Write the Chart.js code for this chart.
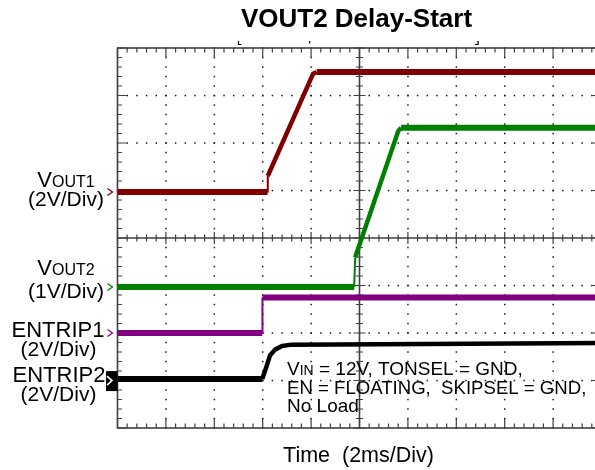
<!DOCTYPE html>
<html>
<head>
<meta charset="utf-8">
<title>VOUT2 Delay-Start</title>
<script src="https://cdn.jsdelivr.net/npm/chart.js@4.4.1/dist/chart.umd.min.js"></script>
<style>
  html, body { margin: 0; padding: 0; background: #ffffff; overflow: hidden; }
  #wrap { width: 620px; height: 470px; }
</style>
</head>
<body>
<div id="wrap"><canvas id="scope" width="620" height="470"></canvas></div>
<script>
// Time axis: 2 ms per division, 10 divisions, trigger at centre
const timeDivs = [-10, -8, -6, -4, -2, 0, 2, 4, 6, 8, 10];

// Channel traces (time in ms, level in volts)
const vout1Time  = [-10, -3.80, -3.79, -1.92, -1.76, 10];
const vout1Volts = [0, 0, 0.67, 4.97, 5.05, 5.05];

const vout2Time  = [-10, -0.22, -0.18, 1.60, 1.72, 10];
const vout2Volts = [0, 0, 0.62, 3.28, 3.35, 3.35];

const entrip1Time  = [-10, -4.02, -4.01, 10];
const entrip1Volts = [0, 0, 1.5, 1.5];

const entrip2Time  = [-10, -4.02, -3.86, -3.70, -3.49, -3.20, -2.80, 10];
const entrip2Volts = [0, 0, 0.48, 0.99, 1.24, 1.39, 1.45, 1.52];

// Channel settings: volts per division and ground marker offset (divisions from centre)
const channelNames  = ['VOUT1', 'VOUT2', 'ENTRIP1', 'ENTRIP2'];
const voltsPerDiv   = [2, 1, 2, 2];
const groundOffsets = [0.97, -1.03, -2.0, -2.97];
const traceColors   = ['#800000', '#008000', '#800080', '#000000'];

const FONT = '"Liberation Sans", Arial, Helvetica, sans-serif';

function pts(t, v) { return t.map((x, i) => ({ x: x, y: v[i] })); }

function channelAxis(i) {
  return {
    type: 'linear', axis: 'y', position: 'left', display: false,
    min: (-4 - groundOffsets[i]) * voltsPerDiv[i],
    max: (4 - groundOffsets[i]) * voltsPerDiv[i]
  };
}

function traceWidth(ctx) {
  const dx = Math.abs(ctx.p1.x - ctx.p0.x);
  const dy = Math.abs(ctx.p1.y - ctx.p0.y);
  if (dy < 0.5) return 6;
  if (dx < 2) return 2;
  return 4.5;
}

function makeTrace(i, t, v) {
  return {
    label: channelNames[i],
    data: pts(t, v),
    yAxisID: 'ch' + i,
    borderColor: traceColors[i],
    backgroundColor: traceColors[i],
    borderWidth: 6,
    borderJoinStyle: 'round',
    pointRadius: 0,
    tension: 0,
    segment: { borderWidth: traceWidth }
  };
}

// Oscilloscope graticule: frame, centre cross, dotted divisions, ticks
const graticule = {
  id: 'graticule',
  beforeDatasetsDraw(chart) {
    const ctx = chart.ctx;
    const xs = chart.scales.x, ys = chart.scales.div;
    const L = xs.getPixelForValue(-10), R = xs.getPixelForValue(10);
    const T = ys.getPixelForValue(4), B = ys.getPixelForValue(-4);
    const cx = xs.getPixelForValue(0), cy = ys.getPixelForValue(0);
    ctx.save();
    // dotted division lines
    ctx.fillStyle = '#1a1a1a';
    for (let d = -3; d <= 3; d++) {
      if (d === 0) continue;
      const y = ys.getPixelForValue(d);
      for (let m = 0; m <= 50; m++) {
        const x = xs.getPixelForValue(-10 + m * 0.4);
        ctx.fillRect(x - 0.7, y - 0.7, 1.5, 1.5);
      }
    }
    for (let d = -8; d <= 8; d += 2) {
      if (d === 0) continue;
      const x = xs.getPixelForValue(d);
      for (let m = 0; m <= 40; m++) {
        const y = ys.getPixelForValue(-4 + m * 0.2);
        ctx.fillRect(x - 0.7, y - 0.7, 1.5, 1.5);
      }
    }
    ctx.strokeStyle = '#404040';
    // frame
    ctx.lineWidth = 1.6;
    ctx.strokeRect(L, T, R - L, B - T);
    // centre cross
    ctx.beginPath();
    ctx.moveTo(L, cy); ctx.lineTo(R, cy);
    ctx.moveTo(cx, T); ctx.lineTo(cx, B);
    ctx.stroke();
    // ticks along frame and centre cross
    ctx.lineWidth = 1.2;
    ctx.beginPath();
    for (let m = 0; m <= 50; m++) {
      const x = xs.getPixelForValue(-10 + m * 0.4);
      const major = m % 5 === 0;
      const len = major ? 9 : 4.5;
      ctx.moveTo(x, T); ctx.lineTo(x, T + len);
      ctx.moveTo(x, B); ctx.lineTo(x, B - len);
      const c = major ? 6 : 3.5;
      ctx.moveTo(x, cy - c); ctx.lineTo(x, cy + c);
    }
    for (let m = 0; m <= 40; m++) {
      const y = ys.getPixelForValue(-4 + m * 0.2);
      const major = m % 5 === 0;
      const len = major ? 9 : 4.5;
      ctx.moveTo(L, y); ctx.lineTo(L + len, y);
      ctx.moveTo(R, y); ctx.lineTo(R - len, y);
      const c = major ? 6 : 3.5;
      ctx.moveTo(cx - c, y); ctx.lineTo(cx + c, y);
    }
    ctx.stroke();
    // cursor markers above the frame
    ctx.strokeStyle = '#000';
    ctx.lineWidth = 1.2;
    ctx.beginPath();
    const m1 = xs.getPixelForValue(-5), m2 = xs.getPixelForValue(-2.06), m3 = xs.getPixelForValue(4.9);
    ctx.moveTo(m1, T - 7); ctx.lineTo(m1, T - 3.5); ctx.lineTo(m1 + 3, T - 3.5);
    ctx.moveTo(m2, T - 7); ctx.lineTo(m2, T - 4.5);
    ctx.moveTo(m3, T - 7); ctx.lineTo(m3, T - 3.5); ctx.lineTo(m3 - 3, T - 3.5);
    ctx.stroke();
    ctx.restore();
  }
};

function drawMixed(ctx, parts, x, y, align) {
  let w = 0;
  parts.forEach(p => { ctx.font = p[1] + 'px ' + FONT; w += ctx.measureText(p[0]).width; });
  let sx = align === 'center' ? x - w / 2 : x;
  ctx.textAlign = 'left';
  parts.forEach(p => {
    ctx.font = p[1] + 'px ' + FONT;
    ctx.fillText(p[0], sx, y);
    sx += ctx.measureText(p[0]).width;
  });
}

// Titles, channel labels, ground markers and test-condition note
const labels = {
  id: 'labels',
  afterDraw(chart) {
    const ctx = chart.ctx;
    const area = chart.chartArea;
    ctx.save();
    ctx.fillStyle = '#000';
    ctx.textBaseline = 'alphabetic';

    ctx.font = 'bold 26px ' + FONT;
    ctx.textAlign = 'center';
    ctx.fillText('VOUT2 Delay-Start', 356.5, 27);

    ctx.font = '21.5px ' + FONT;
    ctx.fillText('Time  (2ms/Div)', 358.5, 462);

    drawMixed(ctx, [['V', 22], ['OUT1', 16]], 66, 187, 'center');
    drawMixed(ctx, [['(2V/Div)', 21]], 66, 206, 'center');
    drawMixed(ctx, [['V', 22], ['OUT2', 16]], 66, 275, 'center');
    drawMixed(ctx, [['(1V/Div)', 21]], 66, 298, 'center');
    drawMixed(ctx, [['ENTRIP1', 22]], 58, 337, 'center');
    drawMixed(ctx, [['(2V/Div)', 21]], 58.5, 356, 'center');
    drawMixed(ctx, [['ENTRIP2', 22]], 59, 382, 'center');
    drawMixed(ctx, [['(2V/Div)', 21]], 58.5, 401, 'center');

    // ground-level markers, one per channel
    const xm = area.left - 10;
    for (let i = 0; i < 3; i++) {
      const y = chart.scales['ch' + i].getPixelForValue(0);
      ctx.strokeStyle = traceColors[i];
      ctx.lineWidth = 1.3;
      ctx.beginPath();
      ctx.moveTo(xm, y - 3.5); ctx.lineTo(xm + 5, y); ctx.lineTo(xm, y + 3.5);
      ctx.stroke();
    }
    const y4 = chart.scales.ch3.getPixelForValue(0);
    ctx.fillStyle = '#000';
    ctx.fillRect(area.left - 11.5, y4 - 8, 11.5, 20);
    ctx.strokeStyle = '#fff';
    ctx.lineWidth = 1.6;
    ctx.beginPath();
    ctx.moveTo(xm - 0.5, y4 - 3); ctx.lineTo(xm + 4.5, y4 + 1.5); ctx.lineTo(xm - 0.5, y4 + 6);
    ctx.stroke();

    // test conditions
    ctx.fillStyle = '#000';
    drawMixed(ctx, [['V', 19], ['IN', 14], [' = 12V, TONSEL = GND,', 19]], 287, 375, 'left');
    drawMixed(ctx, [['EN = FLOATING,  SKIPSEL = GND,', 18.6]], 287, 393.5, 'left');
    drawMixed(ctx, [['No Load', 19]], 287, 412, 'left');
    ctx.restore();
  }
};

new Chart(document.getElementById('scope'), {
  type: 'line',
  data: {
    datasets: [
      makeTrace(0, vout1Time, vout1Volts),
      makeTrace(1, vout2Time, vout2Volts),
      makeTrace(2, entrip1Time, entrip1Volts),
      makeTrace(3, entrip2Time, entrip2Volts)
    ]
  },
  options: {
    responsive: false,
    animation: false,
    devicePixelRatio: 1,
    layout: { padding: { left: 117.5, top: 48, right: 18.5, bottom: 42 } },
    plugins: { legend: { display: false }, tooltip: { enabled: false }, title: { display: false } },
    scales: {
      x: { type: 'linear', axis: 'x', position: 'bottom', display: false, min: timeDivs[0], max: timeDivs[timeDivs.length - 1] },
      div: { type: 'linear', axis: 'y', position: 'left', display: false, min: -4, max: 4 },
      ch0: channelAxis(0),
      ch1: channelAxis(1),
      ch2: channelAxis(2),
      ch3: channelAxis(3)
    }
  },
  plugins: [graticule, labels]
});
</script>
</body>
</html>
